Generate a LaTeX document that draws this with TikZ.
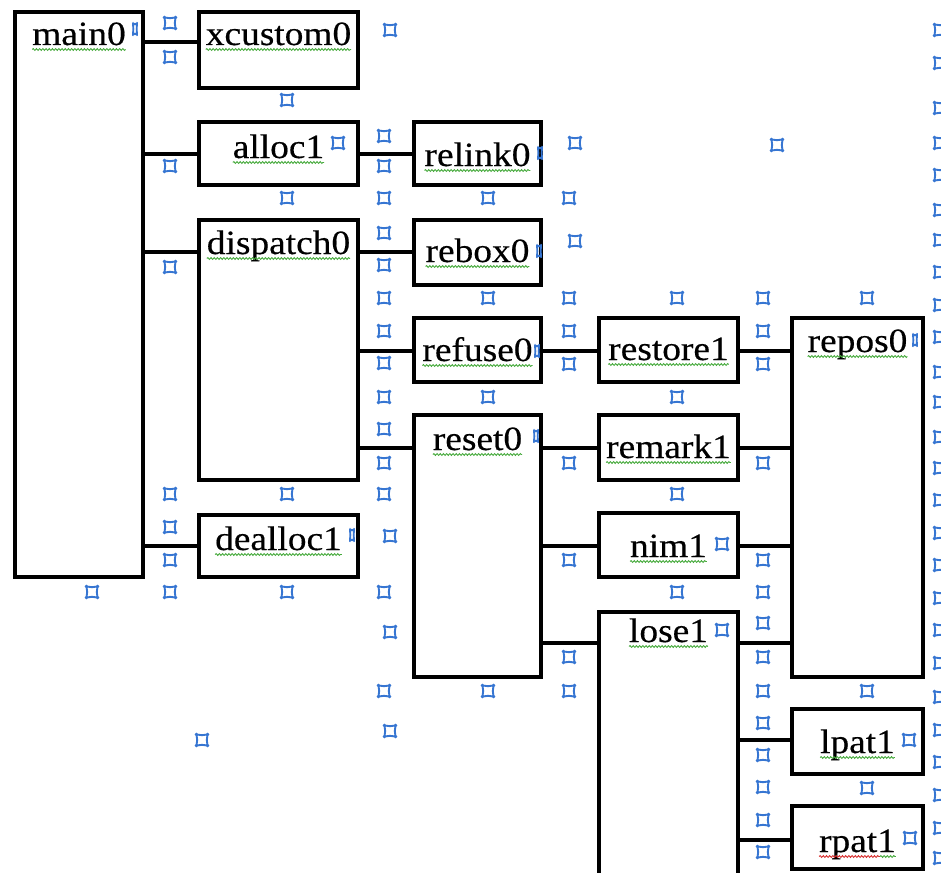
\documentclass[tikz,border=0pt]{standalone}
\usepackage{fontspec}
\setmainfont[FakeStretch=1.1, FakeBold=0.4]{Liberation Serif}
\usetikzlibrary{decorations.pathmorphing}

\definecolor{markblue}{RGB}{55,118,210}
\definecolor{spellgreen}{RGB}{70,170,60}
\definecolor{spellred}{RGB}{215,45,45}

\tikzset{
  blk/.style={draw=black, line width=4pt, rectangle, inner sep=0pt, outer sep=0pt},
  lbl/.style={inner sep=0pt, outer sep=0pt, anchor=base,
              font=\fontsize{34}{34}\selectfont},
  link/.style={draw=black, line width=4pt},
  wavy/.style={decorate, decoration={snake, amplitude=0.9pt, segment length=3.2pt},
               line width=0.9pt, draw=spellgreen},
  cellmark/.pic={
    \draw[markblue, line width=1.9pt]
      (-5.5,-5.5) .. controls (-1.8,-4.6) and (1.8,-4.6) .. (5.5,-5.5)
              .. controls (4.6,-1.8) and (4.6,1.8) .. (5.5,5.5)
              .. controls (1.8,4.6) and (-1.8,4.6) .. (-5.5,5.5)
              .. controls (-4.6,1.8) and (-4.6,-1.8) .. cycle;
    \fill[markblue] (-5.5,-5.5) circle (1.8pt) (5.5,-5.5) circle (1.8pt)
                    (5.5,5.5) circle (1.8pt) (-5.5,5.5) circle (1.8pt);
  }
}

% box: name, left, top, right, bottom, text baseline, text
\newcommand\tbox[7]{%
  \node[blk, minimum width={(#4-#2)*1pt}, minimum height={(#5-#3)*1pt}]
    (#1) at ({(#2+#4)/2},{(#3+#5)/2}) {};
  \node[lbl] (#1-t) at ({(#2+#4)/2},#6) {#7};
}
% squiggly underline under a label
\newcommand\squig[2][wavy]{%
  \draw[#1] ([yshift=-4.5pt]#2-t.base west) -- ([yshift=-4.5pt]#2-t.base east);
}
% horizontal link at a given level
\newcommand\hlink[3]{%
  \coordinate (lv-#1-#2) at (0,#3);
  \draw[link] (#1.east |- lv-#1-#2) -- (#2.west |- lv-#1-#2);
}

\begin{document}
\begin{tikzpicture}[x=1pt, y=-1pt]
\useasboundingbox (0,0) rectangle (941,872);
\clip (0,0) rectangle (941,872);
\fill[white] (0,0) rectangle (941,872);

% blocks
\tbox{main0}{15}{12}{143}{577}{45}{main0}
\tbox{xcustom0}{199}{12}{358}{88}{45}{xcustom0}
\tbox{alloc1}{199}{122}{358}{185}{158}{alloc1}
\tbox{dispatch0}{199}{220}{358}{480}{254}{dispatch0}
\tbox{dealloc1}{199}{515}{358}{577}{550}{dealloc1}
\tbox{relink0}{414}{122}{541}{185}{166}{relink0}
\tbox{rebox0}{414}{220}{541}{285}{262}{rebox0}
\tbox{refuse0}{414}{318}{541}{382}{361}{refuse0}
\tbox{reset0}{414}{415}{541}{677}{450}{reset0}
\tbox{restore1}{599}{318}{738}{382}{360}{restore1}
\tbox{remark1}{599}{415}{738}{480}{458}{remark1}
\tbox{nim1}{599}{513}{738}{577}{557}{nim1}
\tbox{lose1}{599}{612}{738}{900}{642}{lose1}
\tbox{repos0}{792}{318}{923}{677}{352}{repos0}
\tbox{lpat1}{792}{709}{923}{774}{753}{lpat1}
\tbox{rpat1}{792}{806}{923}{869}{852}{rpat1}

% spell-check underlines
\foreach \n in {main0,xcustom0,alloc1,dispatch0,dealloc1,relink0,rebox0,
                refuse0,reset0,restore1,remark1,nim1,lose1,repos0,lpat1}
  {\squig{\n}}
\draw[wavy, draw=spellred] ([yshift=-4.5pt]rpat1-t.base west)
  -- ([yshift=-4.5pt,xshift=-16pt]rpat1-t.base east);
\draw[wavy] ([yshift=-4.5pt,xshift=-16pt]rpat1-t.base east)
  -- ([yshift=-4.5pt]rpat1-t.base east);

% links
\hlink{main0}{xcustom0}{42}
\hlink{main0}{alloc1}{154}
\hlink{main0}{dispatch0}{252}
\hlink{main0}{dealloc1}{546}
\hlink{alloc1}{relink0}{154}
\hlink{dispatch0}{rebox0}{252}
\hlink{dispatch0}{refuse0}{351}
\hlink{dispatch0}{reset0}{448}
\hlink{refuse0}{restore1}{351}
\hlink{restore1}{repos0}{351}
\hlink{reset0}{remark1}{448}
\hlink{remark1}{repos0}{448}
\hlink{reset0}{nim1}{546}
\hlink{nim1}{repos0}{546}
\hlink{reset0}{lose1}{643}
\hlink{lose1}{repos0}{643}
\hlink{lose1}{lpat1}{740}
\hlink{lose1}{rpat1}{840}

% end-of-cell marks
\foreach \x/\y in {
  170/23, 170/57, 170/166, 170/267, 170/494, 170/527, 170/560, 170/592,
  92/592,
  287/100, 287/198, 287/494, 287/592,
  338/143,
  390/30,
  384/136, 384/166, 384/198, 384/233, 384/265, 384/298, 384/331, 384/363,
  384/397, 384/429, 384/463, 384/494, 384/592, 384/691,
  390/536, 390/632, 390/731,
  488/198, 488/298, 488/397, 488/691,
  575/143, 575/241,
  569/198, 569/298, 569/331, 569/364, 569/463, 569/560, 569/657, 569/691,
  677/298, 677/397, 677/494, 677/592,
  777/145,
  763/298, 763/331, 763/364, 763/463, 763/560, 763/592, 763/623, 763/657,
  763/691, 763/723, 763/755, 763/787, 763/820, 763/852,
  867/298, 867/691, 867/788,
  722/544, 722/630, 909/740, 910/838,
  202/740,
  940/30, 940/63, 940/108, 940/143, 940/175, 940/210, 940/240, 940/272,
  940/305, 940/337, 940/372, 940/402, 940/437, 940/468, 940/500, 940/533,
  940/565, 940/598, 940/630, 940/663, 940/697, 940/730, 940/762, 940/795,
  940/828, 940/858}
  {\pic at (\x,\y) {cellmark};}

% marks squeezed against a block border
\foreach \x/\y in {135/29, 352/535, 540/153, 539/251, 537/351, 536/436, 915/340}
  {\pic[xscale=0.35] at (\x,\y) {cellmark};}

\end{tikzpicture}
\end{document}
